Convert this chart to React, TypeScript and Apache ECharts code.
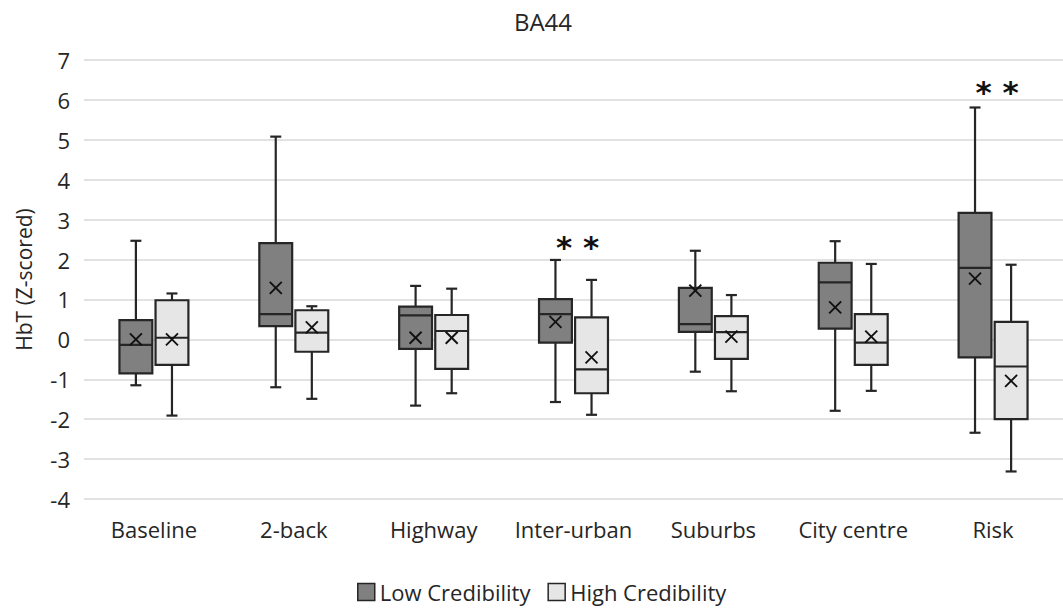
import React, { useEffect, useRef } from "react";
import * as echarts from "echarts";

const categories = ["Baseline", "2-back", "Highway", "Inter-urban", "Suburbs", "City centre", "Risk"];
const yTicks = [-4, -3, -2, -1, 0, 1, 2, 3, 4, 5, 6, 7];

const lowMin = [-1.15, -1.2, -1.66, -1.57, -0.81, -1.79, -2.34];
const lowQ1 = [-0.85, 0.33, -0.24, -0.08, 0.19, 0.27, -0.45];
const lowMed = [-0.14, 0.63, 0.6, 0.63, 0.38, 1.43, 1.79];
const lowQ3 = [0.48, 2.41, 0.82, 1.01, 1.29, 1.92, 3.17];
const lowMax = [2.47, 5.08, 1.34, 1.99, 2.22, 2.46, 5.81];
const lowMean = [0.0, 1.29, 0.04, 0.44, 1.22, 0.8, 1.52];

const highMin = [-1.91, -1.49, -1.35, -1.89, -1.3, -1.29, -3.31];
const highQ1 = [-0.64, -0.31, -0.74, -1.35, -0.49, -0.64, -2.0];
const highMed = [0.04, 0.17, 0.21, -0.75, 0.18, -0.08, -0.68];
const highQ3 = [0.98, 0.73, 0.61, 0.55, 0.58, 0.63, 0.44];
const highMax = [1.15, 0.83, 1.27, 1.49, 1.11, 1.89, 1.87];
const highMean = [0.0, 0.3, 0.04, -0.45, 0.07, 0.07, -1.04];

const sigCategories = ["Inter-urban", "Risk"];
const sigY = [2.36, 6.26];
const sigText = ["* *", "* *"];

const FONT = "Open Sans";
const STROKE = "#262626";
const LOW_FILL = "#808080";
const HIGH_FILL = "#e6e6e6";

function buildRows(mn: number[], q1: number[], md: number[], q3: number[], mx: number[], mean: number[]) {
  return categories.map((_, i) => [i, mn[i], q1[i], md[i], q3[i], mx[i], mean[i]]);
}

function makeRender(offsetFrac: number, fill: string) {
  return (params: any, api: any) => {
    const cat = api.value(0);
    const band = api.size([1, 0])[0];
    const cx = api.coord([cat, 0])[0] + band * offsetFrac;
    const y = (v: number) => api.coord([cat, v])[1];
    const half = (band * 0.235) / 2;
    const cap = 5.5;
    const mn = y(api.value(1));
    const q1 = y(api.value(2));
    const md = y(api.value(3));
    const q3 = y(api.value(4));
    const mx = y(api.value(5));
    const me = y(api.value(6));
    const ls = { stroke: STROKE, lineWidth: 2.2 };
    const m = 6;
    return {
      type: "group",
      children: [
        { type: "line", shape: { x1: cx, y1: q3, x2: cx, y2: mx }, style: ls },
        { type: "line", shape: { x1: cx - cap, y1: mx, x2: cx + cap, y2: mx }, style: ls },
        { type: "line", shape: { x1: cx, y1: q1, x2: cx, y2: mn }, style: ls },
        { type: "line", shape: { x1: cx - cap, y1: mn, x2: cx + cap, y2: mn }, style: ls },
        {
          type: "rect",
          shape: { x: cx - half, y: q3, width: half * 2, height: q1 - q3 },
          style: { fill, stroke: STROKE, lineWidth: 2.2 },
        },
        { type: "line", shape: { x1: cx - half, y1: md, x2: cx + half, y2: md }, style: ls },
        { type: "line", shape: { x1: cx - m, y1: me - m, x2: cx + m, y2: me + m }, style: { stroke: "#111", lineWidth: 1.9 } },
        { type: "line", shape: { x1: cx - m, y1: me + m, x2: cx + m, y2: me - m }, style: { stroke: "#111", lineWidth: 1.9 } },
      ],
    };
  };
}

export default function App() {
  const ref = useRef<HTMLDivElement>(null);
  useEffect(() => {
    if (!ref.current) return;
    const chart = echarts.init(ref.current, undefined, { renderer: "svg" });
    const sigData = sigCategories.map((c, i) => [categories.indexOf(c), sigY[i], sigText[i]]);
    chart.setOption({
      animation: false,
      backgroundColor: "#ffffff",
      textStyle: { fontFamily: FONT },
      title: {
        text: "BA44",
        left: 538,
        textAlign: "center",
        top: 4,
        textStyle: { fontFamily: FONT, fontSize: 24, fontWeight: "normal", color: "#262626" },
      },
      legend: {
        bottom: 2,
        left: 352,
        itemWidth: 17,
        itemHeight: 17,
        itemGap: 17,
        textStyle: { fontFamily: FONT, fontSize: 22, color: "#262626", padding: [0, 0, 0, 0] },
        data: [
          { name: "Low Credibility", icon: "rect", itemStyle: { color: LOW_FILL, borderColor: STROKE, borderWidth: 1.5 } },
          { name: "High Credibility", icon: "rect", itemStyle: { color: HIGH_FILL, borderColor: STROKE, borderWidth: 1.5 } },
        ],
      },
      grid: { left: 84, right: 0, top: 60, bottom: 111, containLabel: false },
      xAxis: {
        type: "category",
        data: categories,
        axisLine: { show: false },
        axisTick: { show: false },
        axisLabel: { fontFamily: FONT, fontSize: 22, color: "#262626", margin: 19, interval: 0, hideOverlap: false },
        splitLine: { show: false },
      },
      yAxis: {
        type: "value",
        min: yTicks[0],
        max: yTicks[yTicks.length - 1],
        interval: 1,
        name: "HbT (Z-scored)",
        nameLocation: "middle",
        nameGap: 50,
        nameTextStyle: { fontFamily: FONT, fontSize: 21, color: "#262626" },
        axisLine: { show: false },
        axisTick: { show: false },
        axisLabel: { fontFamily: FONT, fontSize: 22, color: "#262626", margin: 14 },
        splitLine: { show: true, lineStyle: { color: "#d9d9d9", width: 1.5 } },
      },
      series: [
        {
          name: "Low Credibility",
          type: "custom",
          renderItem: makeRender(-0.129, LOW_FILL),
          encode: { x: 0, y: [1, 2, 3, 4, 5, 6] },
          itemStyle: { color: LOW_FILL, borderColor: STROKE },
          data: buildRows(lowMin, lowQ1, lowMed, lowQ3, lowMax, lowMean),
          z: 3,
        },
        {
          name: "High Credibility",
          type: "custom",
          renderItem: makeRender(0.129, HIGH_FILL),
          encode: { x: 0, y: [1, 2, 3, 4, 5, 6] },
          itemStyle: { color: HIGH_FILL, borderColor: STROKE },
          data: buildRows(highMin, highQ1, highMed, highQ3, highMax, highMean),
          z: 3,
        },
        {
          name: "sig",
          type: "custom",
          renderItem: (params: any, api: any) => {
            const p = api.coord([api.value(0), api.value(1)]);
            return {
              type: "text",
              x: p[0] + 4,
              y: p[1] + 2,
              style: {
                text: sigText[params.dataIndex],
                fontFamily: "DejaVu Sans",
                fontSize: 31,
                fontWeight: "bold",
                fill: "#111",
                align: "center",
                verticalAlign: "middle",
              },
            };
          },
          encode: { x: 0, y: 1 },
          data: sigData,
          z: 4,
        },
      ],
    });
    return () => chart.dispose();
  }, []);
  return <div ref={ref} style={{ position: "fixed", left: 0, top: 0, width: 1063, height: 610 }} />;
}
